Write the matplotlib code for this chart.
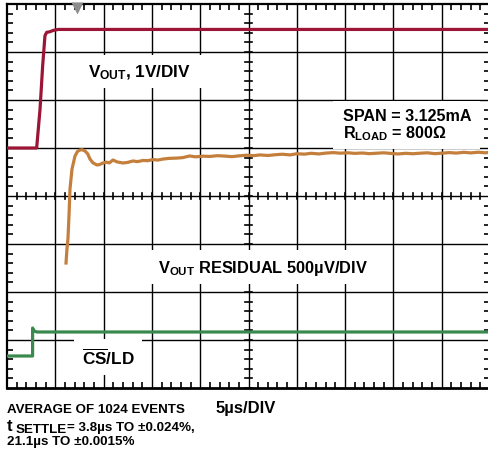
import matplotlib
matplotlib.use("Agg")
import matplotlib.pyplot as plt
from matplotlib.patches import Rectangle

# scope settings: 5us/div horizontally, 8 vertical divisions
t_per_div = 5.0
n_xdiv = 10
n_ydiv = 8

# VOUT trace (V), 1V/DIV, zero sits on division 5
vout_t = [0.0, 3.07, 3.42, 3.69, 3.93, 4.11, 4.4, 4.8, 5.3, 50.0]
vout_v = [0.0, 0.0, 0.81, 1.71, 2.34, 2.41, 2.42, 2.45, 2.47, 2.47]
vout_offset = 5.0

# VOUT residual (uV), 500uV/DIV, zero sits on division 4
res_t = [6.11, 6.2, 6.31, 6.42, 6.52, 6.73, 7.04, 7.3, 7.56, 7.8, 8.07, 8.35,
         8.59, 8.9, 9.32, 9.6, 9.94, 10.3, 10.6, 10.97, 11.4, 12.0, 12.5, 13.04,
         13.5, 14.08, 14.6, 15.1, 15.6, 16.15, 16.8, 17.6, 18.2, 18.9, 19.5,
         20.3, 21.0, 21.8, 22.5, 23.3, 24.0, 24.8, 25.5, 26.2, 27.0, 27.8, 28.5,
         29.3, 30.0, 30.8, 31.5, 32.3, 33.0, 33.8, 34.5, 35.3, 36.0, 36.8, 37.5,
         38.3, 39.0, 39.8, 40.5, 41.3, 42.0, 42.8, 43.5, 44.3, 45.0, 45.8, 46.5,
         47.3, 48.0, 48.8, 49.5, 50.0]
res_uv = [-698, -560, -448, -200, 73, 281, 417, 465, 479, 482, 469, 440,
          385, 345, 323, 328, 344, 352, 345, 375, 355, 344, 350, 365,
          358, 370, 368, 380, 374, 385, 392, 395, 400, 417, 408,
          415, 412, 420, 416, 410, 418, 425, 420, 428, 422, 430, 435,
          428, 440, 436, 445, 438, 447, 452, 446, 450, 444, 448, 441,
          446, 450, 443, 438, 445, 440, 446, 450, 441, 446, 452, 447,
          455, 449, 456, 450, 455]
res_per_div = 500.0
res_offset = 4.0

# CS/LD trace (divisions)
cs_t = [0.0, 2.65, 2.65, 2.8, 3.1, 50.0]
cs_div = [0.667, 0.667, 1.25, 1.19, 1.167, 1.167]

trigger_t = 7.25

red = "#9c1436"
orange = "#c47f3c"
green = "#3a8a50"

plt.rcParams["font.family"] = ["Liberation Sans", "DejaVu Sans"]
plt.rcParams["font.weight"] = "bold"
plt.rcParams["mathtext.fontset"] = "custom"
plt.rcParams["mathtext.rm"] = "Liberation Sans:bold"
plt.rcParams["mathtext.it"] = "Liberation Sans:bold"
plt.rcParams["mathtext.bf"] = "Liberation Sans:bold"

W, H = 489, 452
fig = plt.figure(figsize=(W / 100, H / 100), dpi=100)
ax = fig.add_axes([7 / W, 1 - 389 / H, 483 / W, 384 / H])
xmax = t_per_div * n_xdiv
ax.set_xlim(0, xmax)
ax.set_ylim(0, n_ydiv)

# graticule
for i in range(1, n_xdiv):
    ax.axvline(i * t_per_div, color="black", lw=1.0, zorder=1)
for j in range(1, n_ydiv):
    ax.axhline(j, color="black", lw=1.0, zorder=1)
for s in ax.spines.values():
    s.set_linewidth(1.6)
ax.spines["bottom"].set_linewidth(2.0)
ax.set_xticks([i * t_per_div for i in range(n_xdiv + 1)])
ax.set_yticks(range(n_ydiv + 1))
ax.set_xticks([k for k in range(0, 51)], minor=True)
ax.set_yticks([k / 5 for k in range(0, 41)], minor=True)
ax.tick_params(which="both", direction="in", top=True, right=True,
               labelbottom=False, labelleft=False)
ax.tick_params(which="major", length=0)
ax.tick_params(which="minor", length=4, width=1.2)

# ticks on the centre cross
cx = xmax / 2
cy = n_ydiv / 2
for k in range(0, 51):
    ax.plot([k, k], [cy - 0.07, cy + 0.07], color="black", lw=1.2, zorder=1)
for k in range(0, 41):
    ax.plot([cx - 0.35, cx + 0.35], [k / 5, k / 5], color="black", lw=1.2, zorder=1)

# traces
ax.plot(vout_t, [v + vout_offset for v in vout_v], color=red, lw=2.3,
        zorder=5, solid_joinstyle="round")
ax.plot(res_t, [u / res_per_div + res_offset for u in res_uv], color=orange,
        lw=2.3, zorder=5, solid_joinstyle="round")
ax.plot(cs_t, cs_div, color=green, lw=2.3, zorder=5)

ax.plot([trigger_t], [n_ydiv - 0.09], marker="v", ms=8, color="#8c8c8c",
        mec="none", clip_on=False, zorder=6)

box = dict(facecolor="white", edgecolor="none", boxstyle="square,pad=0.45")
fs = 12.3
ax.text(8.39, 6.5, r"V$_{\rm OUT}$, 1V/DIV  ", fontsize=fs, va="baseline",
        bbox=box, zorder=3)
ax.add_patch(Rectangle((33.75, 4.97), 15.2, 1.0, facecolor="white",
                       edgecolor="none", zorder=2))
ax.text(34.78, 5.23, "SPAN = 3.125mA\n" + r"R$_{\rm LOAD}$ = 800Ω",
        fontsize=11.6, va="baseline", linespacing=1.0, zorder=3)
ax.text(15.63, 2.42, r"V$_{\rm OUT}$ RESIDUAL 500µV/DIV", fontsize=11.8,
        va="baseline", bbox=box, zorder=3)
ax.text(7.76, 0.5, r"$\overline{\rm CS}$/LD", fontsize=fs, va="baseline",
        bbox=box, zorder=3)

fs2 = 9.6
fig.text(7 / W, 1 - 413 / H, "AVERAGE OF 1024 EVENTS", fontsize=fs2,
         va="baseline")
fig.text(7 / W, 1 - 431 / H, "t", fontsize=12, va="baseline")
fig.text(15.5 / W, 1 - 433 / H, "SETTLE", fontsize=fs2, va="baseline")
fig.text(67 / W, 1 - 431 / H, "= 3.8µs TO ±0.024%,", fontsize=fs2,
         va="baseline")
fig.text(7 / W, 1 - 445 / H, "21.1µs TO ±0.0015%", fontsize=fs2,
         va="baseline")
fig.text(216 / W, 1 - 413 / H, "5µs/DIV", fontsize=12, va="baseline")

fig.savefig("out.png", dpi=100)
